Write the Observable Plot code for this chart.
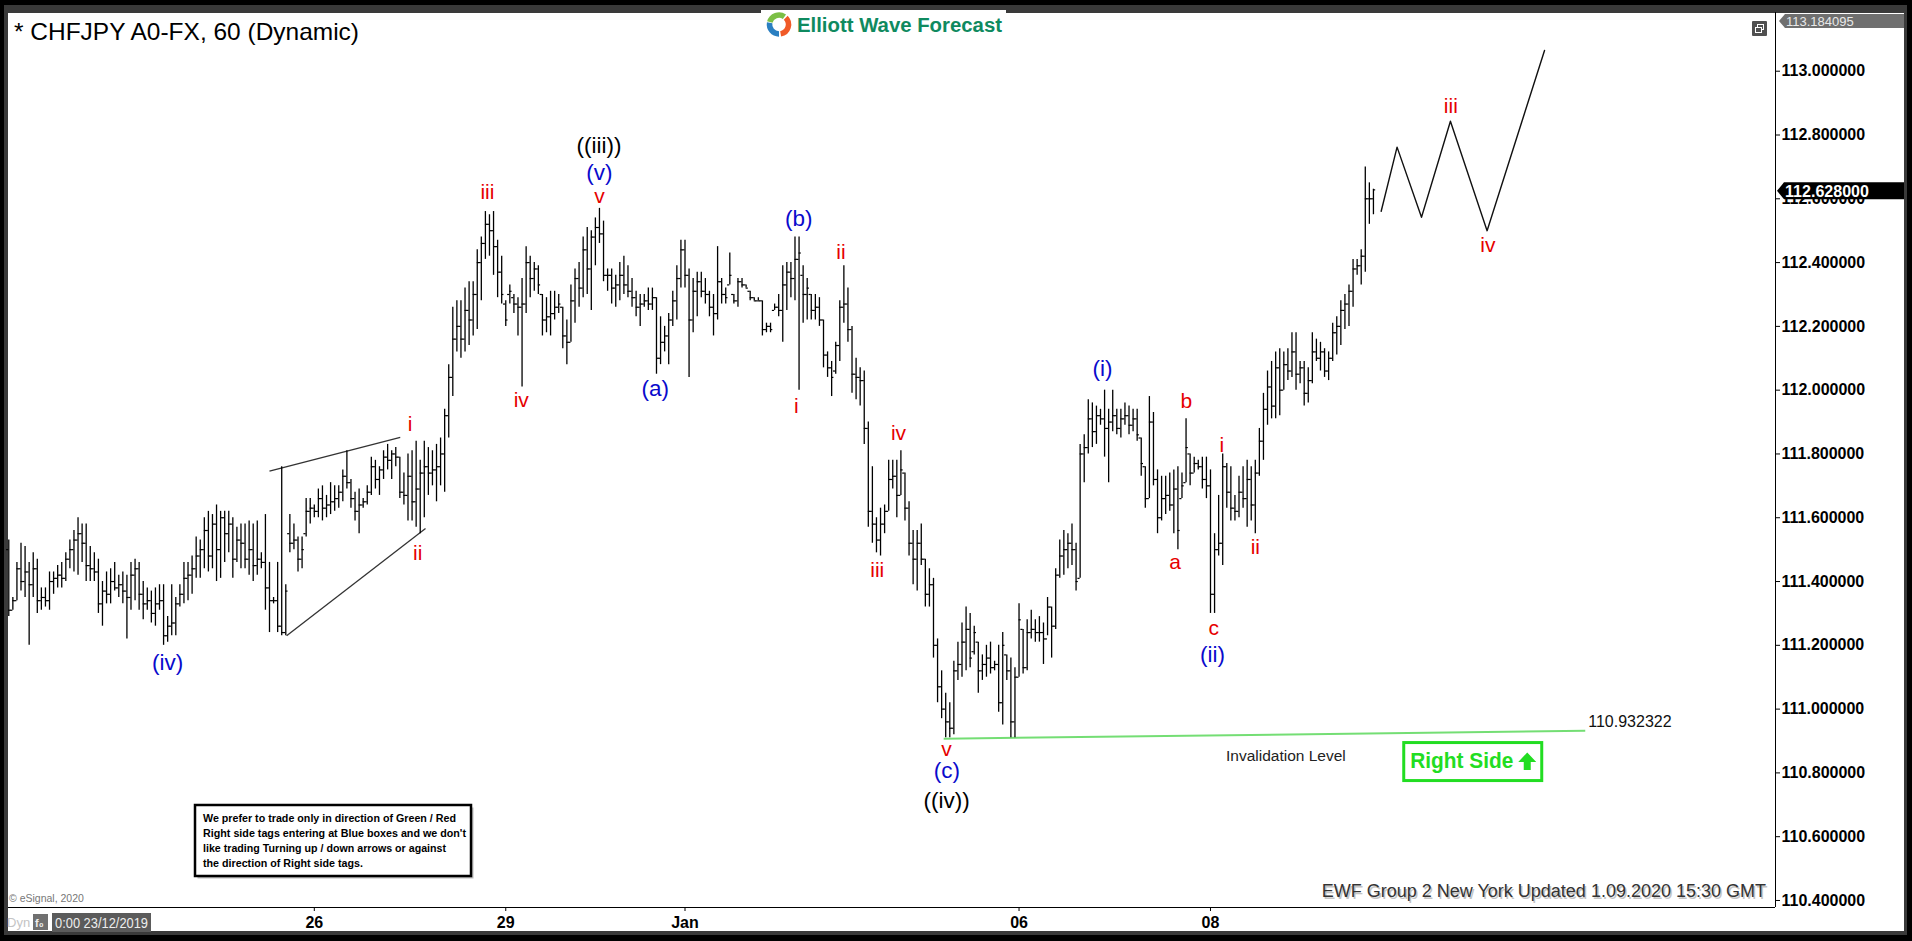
<!DOCTYPE html>
<html><head><meta charset="utf-8">
<script src="https://cdn.jsdelivr.net/npm/d3@7"></script>
<script src="https://cdn.jsdelivr.net/npm/@observablehq/plot@0.6"></script>
<style>
html,body{margin:0;padding:0;background:#000;overflow:hidden;}
#wrap{position:relative;width:1912px;height:941px;background:#000;font-family:"Liberation Sans",Arial,sans-serif;}
#wrap > svg{position:absolute;left:0;top:0;}
#wrap g[aria-label$="tick label"] text{font-weight:bold;}
</style></head><body><div id="wrap"></div>
<script>
// ---- hourly OHLC bars, CHFJPY, 23 Dec 2019 -> 9 Jan 2020 ----
const high = [
111.53,111.35,111.46,111.52,111.51,111.46,111.49,111.47,111.38,111.38,
111.43,111.43,111.45,111.46,111.49,111.53,111.56,111.60,111.58,111.58,
111.51,111.49,111.47,111.40,111.43,111.44,111.46,111.42,111.43,111.42,
111.46,111.47,111.46,111.40,111.38,111.37,111.38,111.39,111.39,111.29,
111.39,111.35,111.39,111.46,111.46,111.48,111.54,111.53,111.60,111.62,
111.61,111.64,111.62,111.62,111.62,111.60,111.57,111.58,111.58,111.59,
111.58,111.59,111.49,111.61,111.46,111.35,111.46,111.76,111.39,111.61,
111.58,111.54,111.54,111.66,111.66,111.64,111.69,111.70,111.67,111.71,
111.70,111.70,111.75,111.81,111.72,111.68,111.69,111.66,111.70,111.79,
111.78,111.76,111.81,111.83,111.81,111.82,111.79,111.74,111.80,111.81,
111.84,111.78,111.84,111.82,111.81,111.83,111.85,111.94,112.08,112.26,
112.28,112.28,112.32,112.34,112.34,112.44,112.48,112.56,112.55,112.56,
112.47,112.42,112.28,112.33,112.30,112.29,112.35,112.45,112.42,112.40,
112.39,112.30,112.29,112.31,112.31,112.30,112.26,112.22,112.33,112.38,
112.40,112.48,112.51,112.50,112.54,112.57,112.53,112.38,112.38,112.36,
112.40,112.42,112.39,112.35,112.31,112.30,112.30,112.32,112.32,112.29,
112.23,112.20,112.24,112.31,112.39,112.47,112.47,112.38,112.35,112.37,
112.37,112.35,112.31,112.30,112.45,112.35,112.32,112.43,112.30,112.35,
112.35,112.33,112.31,112.29,112.29,112.28,112.21,112.21,112.27,112.30,
112.39,112.40,112.40,112.48,112.48,112.39,112.35,112.30,112.30,112.29,
112.22,112.12,112.09,112.15,112.28,112.39,112.32,112.20,112.10,112.07,
112.06,111.90,111.76,111.60,111.63,111.64,111.78,111.78,111.78,111.81,
111.74,111.65,111.56,111.56,111.58,111.47,111.44,111.41,111.22,111.12,
111.05,111.02,111.15,111.21,111.27,111.32,111.30,111.26,111.21,111.17,
111.20,111.21,111.15,111.20,111.24,111.17,111.16,111.13,111.33,111.25,
111.28,111.31,111.28,111.29,111.27,111.35,111.32,111.44,111.53,111.56,
111.55,111.58,111.52,111.83,111.86,111.97,111.96,111.95,111.94,112.00,
111.94,112.00,111.94,111.94,111.96,111.95,111.94,111.94,111.85,111.76,
111.98,111.93,111.75,111.73,111.73,111.74,111.75,111.76,111.74,111.91,
111.80,111.79,111.78,111.79,111.79,111.75,111.55,111.67,111.80,111.77,
111.76,111.67,111.73,111.76,111.78,111.76,111.78,111.88,111.99,112.06,
112.09,112.12,112.13,112.12,112.13,112.18,112.18,112.09,112.09,112.07,
112.18,112.16,112.15,112.13,112.12,112.21,112.23,112.28,112.30,112.33,
112.41,112.41,112.44,112.70,112.65,112.63];
const low = [
111.29,111.31,111.34,111.37,111.35,111.20,111.35,111.30,111.31,111.32,
111.31,111.36,111.38,111.38,111.40,111.44,111.43,111.42,111.46,111.40,
111.40,111.40,111.30,111.26,111.33,111.33,111.37,111.35,111.33,111.22,
111.31,111.34,111.31,111.28,111.31,111.27,111.26,111.31,111.20,111.21,
111.23,111.23,111.32,111.33,111.34,111.36,111.41,111.41,111.44,111.43,
111.44,111.40,111.41,111.46,111.49,111.41,111.46,111.44,111.44,111.42,
111.40,111.42,111.44,111.31,111.24,111.33,111.24,111.23,111.23,111.49,
111.50,111.43,111.44,111.54,111.58,111.60,111.60,111.59,111.60,111.61,
111.62,111.63,111.65,111.69,111.63,111.59,111.55,111.63,111.64,111.67,
111.69,111.67,111.72,111.75,111.72,111.76,111.66,111.64,111.59,111.59,
111.57,111.55,111.60,111.67,111.70,111.65,111.70,111.68,111.85,111.98,
112.12,112.10,112.12,112.14,112.17,112.19,112.28,112.41,112.42,112.36,
112.29,112.27,112.20,112.27,112.24,112.17,112.01,112.24,112.29,112.31,
112.30,112.17,112.18,112.17,112.22,112.24,112.13,112.08,112.15,112.21,
112.26,112.29,112.30,112.25,112.39,112.46,112.34,112.31,112.27,112.26,
112.28,112.30,112.29,112.26,112.23,112.20,112.26,112.25,112.25,112.05,
112.08,112.12,112.08,112.20,112.22,112.32,112.32,112.04,112.18,112.23,
112.29,112.27,112.23,112.17,112.22,112.27,112.27,112.33,112.27,112.26,
112.32,112.32,112.28,112.28,112.28,112.17,112.18,112.18,112.25,112.23,
112.15,112.25,112.29,112.28,112.00,112.21,112.22,112.22,112.22,112.20,
112.07,112.04,111.98,112.05,112.09,112.21,112.15,111.99,111.97,111.95,
111.83,111.57,111.52,111.49,111.48,111.55,111.62,111.69,111.60,111.67,
111.59,111.48,111.39,111.37,111.45,111.32,111.32,111.16,111.02,110.97,
110.91,110.91,110.92,111.09,111.10,111.12,111.13,111.17,111.05,111.09,
111.10,111.11,111.12,110.99,110.95,111.09,110.91,110.91,111.10,111.11,
111.12,111.22,111.21,111.21,111.14,111.23,111.16,111.25,111.41,111.42,
111.44,111.45,111.37,111.41,111.71,111.80,111.82,111.83,111.89,111.79,
111.71,111.87,111.86,111.85,111.89,111.86,111.87,111.84,111.73,111.63,
111.66,111.70,111.55,111.59,111.61,111.62,111.55,111.50,111.66,111.71,
111.70,111.74,111.75,111.69,111.66,111.30,111.30,111.48,111.45,111.63,
111.59,111.59,111.60,111.63,111.57,111.59,111.55,111.73,111.78,111.89,
111.91,111.91,111.92,112.00,112.03,112.04,112.00,112.02,111.95,111.96,
112.02,112.09,112.06,112.04,112.03,112.09,112.11,112.14,112.19,112.20,
112.26,112.36,112.33,112.37,112.52,112.55];
const open = [
111.50,111.31,111.34,111.44,111.40,111.43,111.39,111.44,111.34,111.35,
111.34,111.40,111.41,111.42,111.41,111.47,111.50,111.53,111.55,111.52,
111.45,111.44,111.43,111.33,111.37,111.36,111.40,111.38,111.39,111.37,
111.35,111.42,111.44,111.36,111.33,111.34,111.30,111.33,111.34,111.23,
111.26,111.27,111.33,111.36,111.41,111.42,111.44,111.48,111.50,111.56,
111.48,111.58,111.50,111.60,111.55,111.58,111.47,111.53,111.52,111.47,
111.50,111.45,111.47,111.46,111.38,111.34,111.34,111.26,111.24,111.55,
111.52,111.53,111.47,111.55,111.62,111.63,111.62,111.66,111.63,111.64,
111.65,111.66,111.68,111.73,111.71,111.66,111.62,111.64,111.65,111.68,
111.76,111.72,111.75,111.79,111.78,111.80,111.79,111.68,111.67,111.73,
111.65,111.69,111.74,111.76,111.74,111.75,111.76,111.80,111.92,112.04,
112.16,112.20,112.16,112.25,112.22,112.30,112.40,112.46,112.52,112.50,
112.45,112.37,112.27,112.30,112.29,112.27,112.26,112.27,112.40,112.35,
112.38,112.30,112.22,112.23,112.24,112.26,112.26,112.17,112.15,112.28,
112.35,112.32,112.44,112.38,112.48,112.51,112.49,112.36,112.36,112.32,
112.33,112.36,112.33,112.31,112.29,112.26,112.27,112.28,112.27,112.29,
112.10,112.15,112.17,112.22,112.28,112.35,112.44,112.36,112.22,112.31,
112.34,112.31,112.30,112.26,112.24,112.34,112.30,112.33,112.30,112.28,
112.34,112.33,112.31,112.29,112.28,112.28,112.19,112.20,112.25,112.26,
112.25,112.33,112.37,112.35,112.41,112.36,112.30,112.30,112.25,112.26,
112.22,112.11,112.07,112.06,112.14,112.26,112.27,112.19,112.05,112.04,
112.03,111.88,111.62,111.58,111.53,111.58,111.62,111.72,111.73,111.67,
111.74,111.63,111.52,111.47,111.52,111.47,111.36,111.39,111.20,111.07,
111.00,110.96,110.94,111.12,111.14,111.21,111.25,111.18,111.21,111.12,
111.14,111.16,111.13,111.14,111.02,111.17,111.12,110.96,111.10,111.25,
111.13,111.24,111.25,111.24,111.24,111.22,111.32,111.26,111.42,111.48,
111.50,111.52,111.50,111.41,111.80,111.82,111.91,111.87,111.92,111.91,
111.88,111.90,111.92,111.88,111.91,111.92,111.89,111.91,111.85,111.76,
111.66,111.90,111.72,111.60,111.66,111.67,111.64,111.69,111.66,111.71,
111.80,111.74,111.77,111.76,111.72,111.70,111.36,111.50,111.52,111.76,
111.68,111.63,111.62,111.68,111.66,111.72,111.64,111.74,111.84,111.94,
112.01,111.95,112.07,112.00,112.08,112.06,112.12,112.05,112.07,111.99,
112.03,112.12,112.10,112.12,112.06,112.10,112.18,112.20,112.25,112.27,
112.31,112.38,112.39,112.42,112.60,112.60];
const close = [
111.31,111.34,111.44,111.40,111.43,111.39,111.44,111.34,111.35,111.34,
111.40,111.41,111.42,111.41,111.47,111.50,111.53,111.55,111.52,111.45,
111.44,111.43,111.33,111.37,111.36,111.40,111.38,111.39,111.37,111.35,
111.42,111.44,111.36,111.33,111.34,111.30,111.33,111.34,111.23,111.26,
111.27,111.33,111.36,111.41,111.42,111.44,111.48,111.50,111.56,111.48,
111.58,111.50,111.60,111.55,111.58,111.47,111.53,111.52,111.47,111.50,
111.45,111.47,111.46,111.38,111.34,111.34,111.26,111.24,111.37,111.52,
111.53,111.47,111.50,111.62,111.63,111.62,111.66,111.63,111.64,111.65,
111.66,111.68,111.73,111.71,111.66,111.62,111.64,111.65,111.68,111.76,
111.72,111.75,111.79,111.78,111.80,111.79,111.68,111.67,111.73,111.65,
111.69,111.74,111.76,111.74,111.75,111.76,111.80,111.92,112.04,112.16,
112.20,112.16,112.25,112.22,112.30,112.40,112.46,112.52,112.50,112.45,
112.37,112.30,112.22,112.31,112.27,112.26,112.27,112.40,112.35,112.38,
112.33,112.22,112.23,112.24,112.26,112.27,112.17,112.15,112.28,112.35,
112.32,112.44,112.38,112.48,112.51,112.49,112.36,112.36,112.32,112.33,
112.36,112.33,112.31,112.29,112.26,112.27,112.28,112.27,112.29,112.10,
112.15,112.17,112.22,112.28,112.35,112.44,112.36,112.22,112.31,112.34,
112.31,112.30,112.26,112.24,112.34,112.30,112.29,112.36,112.28,112.34,
112.33,112.32,112.29,112.28,112.28,112.19,112.20,112.19,112.26,112.25,
112.33,112.37,112.35,112.41,112.43,112.30,112.32,112.25,112.26,112.22,
112.11,112.07,112.04,112.14,112.26,112.27,112.19,112.05,112.04,112.03,
111.88,111.62,111.58,111.53,111.58,111.62,111.72,111.73,111.67,111.75,
111.63,111.52,111.47,111.52,111.47,111.36,111.39,111.20,111.07,111.00,
110.96,110.94,111.12,111.14,111.21,111.25,111.16,111.24,111.12,111.14,
111.16,111.13,111.14,111.02,111.20,111.12,110.96,111.10,111.28,111.13,
111.24,111.25,111.24,111.24,111.22,111.32,111.26,111.42,111.48,111.50,
111.52,111.50,111.40,111.80,111.82,111.91,111.87,111.92,111.91,111.88,
111.90,111.92,111.88,111.91,111.92,111.89,111.91,111.86,111.77,111.66,
111.90,111.72,111.60,111.66,111.67,111.64,111.69,111.56,111.70,111.82,
111.74,111.77,111.76,111.72,111.70,111.36,111.50,111.52,111.76,111.68,
111.63,111.62,111.68,111.66,111.72,111.64,111.74,111.84,111.94,112.01,
111.95,112.07,112.00,112.08,112.06,112.12,112.05,112.07,111.99,112.03,
112.12,112.10,112.12,112.06,112.10,112.18,112.20,112.25,112.27,112.31,
112.38,112.39,112.42,112.60,112.60,112.628];

// ---- axes ----
const xTickIndex = [75, 122, 166, 248, 295];
const xTickLabel = ["26", "29", "Jan", "06", "08"];
const yTicks = [110.4,110.6,110.8,111.0,111.2,111.4,111.6,111.8,112.0,112.2,112.4,112.6,112.8,113.0];
const xDomain = [-0.07, 433.7];
const yDomain = [110.378, 113.184095];
const topPrice = 113.184095;
const lastPrice = 112.628;

// ---- annotations (bar index, price) ----
const waveText  = ["(iv)","i","ii","iii","iv","((iii))","(v)","v","(a)","(b)","i","ii","iii","iv","v","(c)","((iv))","(i)","a","b","c","(ii)","i","ii","iii","iv"];
const waveIndex = [39.0,98.5,100.4,117.5,125.8,144.9,145.0,145.0,158.7,193.9,193.3,204.3,213.2,218.4,230.2,230.3,230.2,268.5,286.3,289.1,295.8,295.5,297.8,306.0,354.0,363.1];
const wavePrice = [111.146,111.894,111.489,112.620,111.969,112.765,112.680,112.607,112.003,112.537,111.951,112.431,111.434,111.864,110.873,110.806,110.713,112.068,111.459,111.964,111.252,111.171,111.828,111.506,112.889,112.453];
const waveDegree = ["blue","red","red","red","red","black","blue","red","blue","blue","red","red","red","red","red","blue","black","blue","red","red","red","blue","red","red","red","red"];

const wedgeIndex1 = [64.0, 68.2], wedgePrice1 = [111.746, 111.230];
const wedgeIndex2 = [96.1, 102.3], wedgePrice2 = [111.852, 111.566];

const forecastIndex = [336.9, 340.8, 346.8, 353.9, 362.9, 377.0];
const forecastPrice = [112.561, 112.762, 112.542, 112.843, 112.500, 113.065];

const invalidationIndex = [229.5, 387.0];
const invalidationPrice = [110.907, 110.932322];
const invalidationLabelAt = {i: 313.5, p: 110.854};
const rightSideAt = {i: 359.5, p: 110.834};

// ---- build tables ----
const bars = high.map((h, i) => ({i, o: open[i], h, l: low[i], c: close[i]}));
const labels = waveText.map((t, k) => ({t, i: waveIndex[k], p: wavePrice[k], d: waveDegree[k]}));
const wedge = wedgeIndex1.map((v, k) => ({i1: v, p1: wedgePrice1[k], i2: wedgeIndex2[k], p2: wedgePrice2[k]}));
const forecast = forecastIndex.map((v, k) => ({i: v, p: forecastPrice[k]}));
const invalidation = [{i1: invalidationIndex[0], p1: invalidationPrice[0], i2: invalidationIndex[1], p2: invalidationPrice[1]}];
const xLabel = new Map(xTickIndex.map((v, k) => [v, xTickLabel[k]]));
const colorOf = {red: "#e60000", blue: "#0a0acc", black: "#000000"};

const W = 1912, H = 941;
const wrap = document.getElementById("wrap");
const NS = "http://www.w3.org/2000/svg";
function el(tag, attrs, parent, text) {
  const e = document.createElementNS(NS, tag);
  for (const k in attrs) e.setAttribute(k, attrs[k]);
  if (text != null) e.textContent = text;
  parent.appendChild(e);
  return e;
}

// background frame
const bg = el("svg", {width: W, height: H}, wrap);
el("rect", {x: 0, y: 0, width: W, height: H, fill: "#000"}, bg);
el("rect", {x: 4, y: 5, width: 1903, height: 930, fill: "#3a3a3a"}, bg);
el("rect", {x: 8, y: 13, width: 1896, height: 918, fill: "#fff"}, bg);

const chart = Plot.plot({
  width: W, height: H,
  marginLeft: 8, marginRight: 137, marginTop: 12, marginBottom: 34,
  style: {background: "transparent", fontFamily: "'Liberation Sans', Arial, sans-serif", overflow: "visible"},
  x: {domain: xDomain, axis: null},
  y: {domain: yDomain, axis: null},
  marks: [
    Plot.ruleY([yDomain[0]], {stroke: "#000", strokeWidth: 1}),
    Plot.ruleX([xDomain[1]], {stroke: "#000", strokeWidth: 1}),
    Plot.axisX(xTickIndex, {anchor: "bottom", tickSize: 4, tickPadding: 5, tickFormat: d => xLabel.get(d), fontSize: 16, fontWeight: "bold"}),
    Plot.axisY(yTicks, {anchor: "right", tickSize: 4, tickPadding: 2, tickFormat: d => d.toFixed(6), fontSize: 16, fontWeight: "bold"}),
    Plot.link(invalidation, {x1: "i1", y1: "p1", x2: "i2", y2: "p2", stroke: "#74de74", strokeWidth: 2}),
    Plot.link(wedge, {x1: "i1", y1: "p1", x2: "i2", y2: "p2", stroke: "#333", strokeWidth: 1.3}),
    Plot.ruleX(bars, {x: "i", y1: "l", y2: "h", stroke: "#000", strokeWidth: 1.3}),
    Plot.ruleY(bars, {x1: d => d.i - 0.55, x2: "i", y: "o", stroke: "#000", strokeWidth: 1.2}),
    Plot.ruleY(bars, {x1: "i", x2: d => d.i + 0.55, y: "c", stroke: "#000", strokeWidth: 1.2}),
    Plot.line(forecast, {x: "i", y: "p", stroke: "#111", strokeWidth: 1.4}),
    Plot.text(labels.filter(d => d.d === "red"), {x: "i", y: "p", text: "t", fill: colorOf.red, fontSize: 21}),
    Plot.text(labels.filter(d => d.d === "blue"), {x: "i", y: "p", text: "t", fill: colorOf.blue, fontSize: 22.5}),
    Plot.text(labels.filter(d => d.d === "black"), {x: "i", y: "p", text: "t", fill: colorOf.black, fontSize: 22.5}),
    Plot.text([invalidationLabelAt], {x: "i", y: "p", text: () => "Invalidation Level", fill: "#222", fontSize: 15.5}),
    Plot.text(invalidation, {x: "i2", y: "p2", text: d => d.p2.toFixed(6), textAnchor: "start", dx: 3, dy: -9, fill: "#111", fontSize: 16})
  ]
});
chart.querySelectorAll('g[aria-label$="tick label"]').forEach(g => {
  g.setAttribute("font-weight", "bold");
  g.querySelectorAll("text").forEach(t => t.setAttribute("font-weight", "bold"));
});
wrap.appendChild(chart);
const sx = v => chart.scale("x").apply(v);
const sy = v => chart.scale("y").apply(v);

// overlay chrome
const ov = el("svg", {width: W, height: H, style: "font-family:'Liberation Sans',Arial,sans-serif;pointer-events:none"}, wrap);

// title
el("text", {x: 14, y: 39.5, "font-size": 24, fill: "#000", textLength: 345, lengthAdjust: "spacingAndGlyphs"}, ov, "* CHFJPY A0-FX, 60 (Dynamic)");

// logo
el("rect", {x: 761, y: 10, width: 245, height: 36, fill: "#fff"}, ov);
function arc(cx, cy, r, a0, a1) {
  const p = a => [cx + r * Math.cos(a * Math.PI / 180), cy + r * Math.sin(a * Math.PI / 180)];
  const [x0, y0] = p(a0), [x1, y1] = p(a1);
  return `M${x0},${y0} A${r},${r} 0 ${a1 - a0 > 180 ? 1 : 0} 1 ${x1},${y1}`;
}
el("path", {d: arc(779, 24.5, 9.5, 195, 305), fill: "none", stroke: "#7cbf45", "stroke-width": 5.5}, ov);
el("path", {d: arc(779, 24.5, 9.5, 315, 440), fill: "none", stroke: "#f05a28", "stroke-width": 5.5}, ov);
el("path", {d: arc(779, 24.5, 9.5, 90, 190), fill: "none", stroke: "#2a7fc1", "stroke-width": 5.5}, ov);
el("text", {x: 797, y: 32, "font-size": 20, "font-weight": "bold", fill: "#0f8a5f", textLength: 205, lengthAdjust: "spacingAndGlyphs"}, ov, "Elliott Wave Forecast");

// top-right window icon
el("rect", {x: 1752, y: 21, width: 15, height: 15, fill: "#505050", rx: 1}, ov);
el("rect", {x: 1757.5, y: 24.5, width: 6, height: 5, fill: "none", stroke: "#fff", "stroke-width": 1}, ov);
el("rect", {x: 1755.5, y: 27.5, width: 6, height: 5, fill: "#505050", stroke: "#fff", "stroke-width": 1}, ov);

// price tags on the right axis
el("path", {d: "M1779,21 L1785,14 L1904,14 L1904,28 L1785,28 Z", fill: "#6f6f6f"}, ov);
el("text", {x: 1786, y: 25.8, "font-size": 13, fill: "#e8e8e8"}, ov, topPrice.toFixed(6));
const yc = sy(lastPrice) + 1.5;
el("path", {d: `M1777,${yc} L1784,${yc - 8.5} L1904,${yc - 8.5} L1904,${yc + 8.5} L1784,${yc + 8.5} Z`, fill: "#000"}, ov);
el("text", {x: 1785, y: yc + 6, "font-size": 16, "font-weight": "bold", fill: "#fff", textLength: 84, lengthAdjust: "spacingAndGlyphs"}, ov, lastPrice.toFixed(6));

// note box
el("rect", {x: 197.5, y: 807.5, width: 276, height: 71, fill: "#bdbdbd"}, ov);
el("rect", {x: 195, y: 805, width: 276, height: 71, fill: "#fff", stroke: "#000", "stroke-width": 2.5}, ov);
const noteLines = ["We prefer to trade only in direction of Green / Red", "Right side tags entering at Blue boxes and we don't", "like trading Turning up / down arrows or against", "the direction of Right side tags."];
const noteLen = [253, 263, 243, 160];
noteLines.forEach((t, k) => el("text", {x: 203, y: 821.7 + 15 * k, "font-size": 11.8, "font-weight": "bold", fill: "#000", textLength: noteLen[k], lengthAdjust: "spacingAndGlyphs"}, ov, t));

// bottom-left chrome
el("text", {x: 9, y: 902, "font-size": 10.5, fill: "#777"}, ov, "© eSignal, 2020");
el("text", {x: 7, y: 927, "font-size": 13, fill: "#c4c4c4"}, ov, "Dyn");
el("rect", {x: 33, y: 914, width: 15, height: 16, fill: "#707070"}, ov);
el("text", {x: 35, y: 927, "font-size": 11, "font-weight": "bold", fill: "#eee"}, ov, "f₀");
el("rect", {x: 52, y: 913, width: 99, height: 19, fill: "#5b5b5b"}, ov);
el("text", {x: 55, y: 928, "font-size": 15, fill: "#eee", textLength: 93, lengthAdjust: "spacingAndGlyphs"}, ov, "0:00 23/12/2019");

// footer
el("text", {x: 1767.5, y: 898.5, "font-size": 18, fill: "#c4c4c4", "text-anchor": "end"}, ov, "EWF Group 2 New York Updated 1.09.2020 15:30 GMT");
el("text", {x: 1766, y: 897, "font-size": 18, fill: "#333", "text-anchor": "end"}, ov, "EWF Group 2 New York Updated 1.09.2020 15:30 GMT");

// Right Side tag
const cx = sx(rightSideAt.i), cy = sy(rightSideAt.p);
el("rect", {x: cx - 69, y: cy - 19, width: 138, height: 38, fill: "none", stroke: "#22dd22", "stroke-width": 3}, ov);
el("text", {x: cx - 62.5, y: cy + 6, "font-size": 22, "font-weight": "bold", fill: "#22dd22", textLength: 103, lengthAdjust: "spacingAndGlyphs"}, ov, "Right Side");
el("polygon", {points: [[cx + 54.5, cy - 9], [cx + 63.5, cy + 0.5], [cx + 58, cy + 0.5], [cx + 58, cy + 8.5], [cx + 51, cy + 8.5], [cx + 51, cy + 0.5], [cx + 45.5, cy + 0.5]].map(p => p.join(",")).join(" "), fill: "#22dd22"}, ov);
</script>
</body></html>
